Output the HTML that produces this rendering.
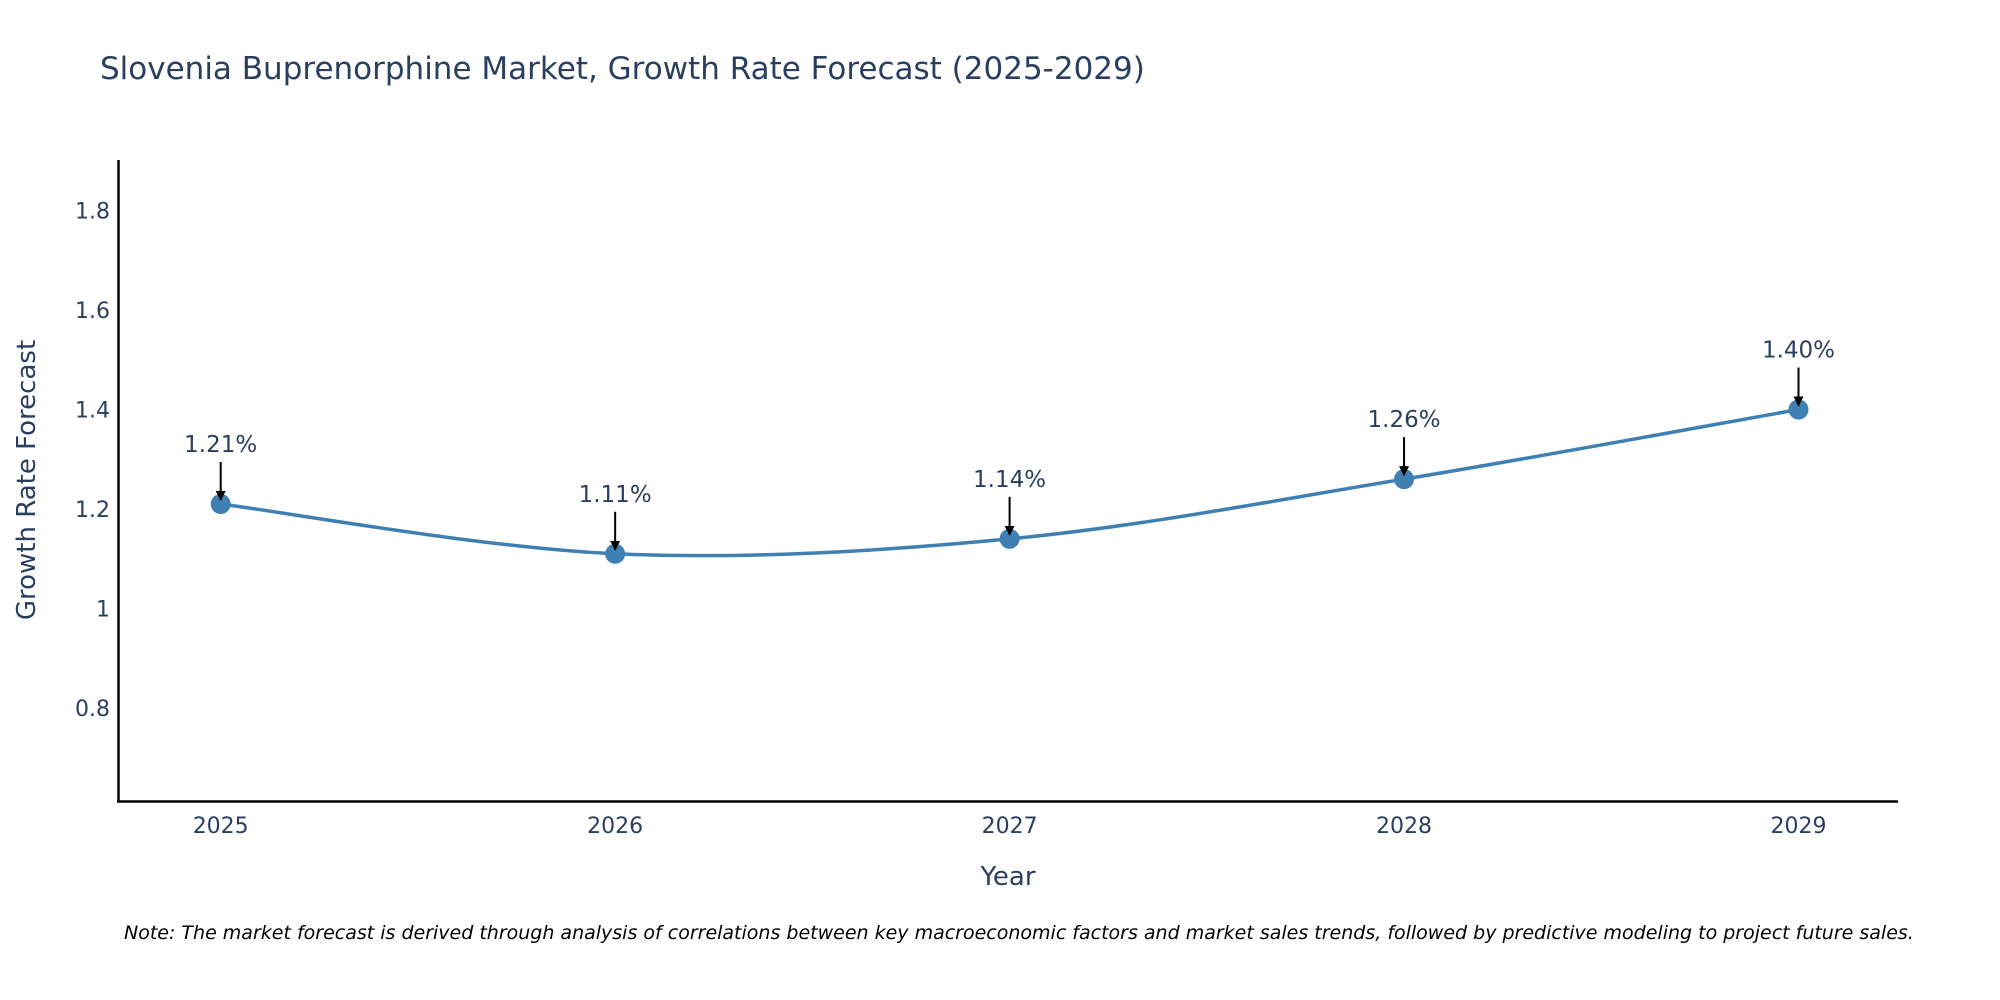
<!DOCTYPE html>
<html><head><meta charset="utf-8"><style>
html,body{margin:0;padding:0;background:#fff}
svg{display:block;font-family:"DejaVu Sans","Liberation Sans",sans-serif}
</style></head><body>
<svg id="chart" width="2000" height="1000" viewBox="0 0 2000 1000">
<rect width="2000" height="1000" fill="#fff"/>
<text x="100" y="79" font-size="31" fill="#2a3f5f">Slovenia Buprenorphine Market, Growth Rate Forecast (2025-2029)</text>
<g id="yticks"></g>
<g id="xticks"></g>
<line x1="118.5" y1="160" x2="118.5" y2="802" stroke="#000" stroke-width="2.5"/>
<line x1="117" y1="801.5" x2="1898" y2="801.5" stroke="#000" stroke-width="2.5"/>
<path id="line" fill="none" stroke="#3f7fb1" stroke-width="3.5"/>
<g id="points"></g>
<g id="annots"></g>
<text x="26" y="480" font-size="26" fill="#2a3f5f" text-anchor="middle" transform="rotate(-90 26 480)" dy="9">Growth Rate Forecast</text>
<text x="1008" y="885" font-size="26" fill="#2a3f5f" text-anchor="middle">Year</text>
<text x="124" y="939" font-size="19" font-style="italic" fill="#000">Note: The market forecast is derived through analysis of correlations between key macroeconomic factors and market sales trends, followed by predictive modeling to project future sales.</text>
<defs><marker id="ah" viewBox="0 0 10 10" refX="9" refY="5" markerWidth="5" markerHeight="5" orient="auto"><path d="M0,0 L10,5 L0,10 z" fill="#000"/></marker></defs>
</svg>
<script>
const years = [2025, 2026, 2027, 2028, 2029];
const values = [1.21, 1.11, 1.14, 1.26, 1.40];
const labels = ["1.21%", "1.11%", "1.14%", "1.26%", "1.40%"];
const yTickValues = [0.8, 1, 1.2, 1.4, 1.6, 1.8];
const yTickLabels = ["0.8", "1", "1.2", "1.4", "1.6", "1.8"];

const NS = "http://www.w3.org/2000/svg";
function xS(v){ return 220.7 + (v - 2025) * (1798.5 - 220.7) / 4; }
function yS(v){ return 708 - (v - 0.8) * 497.5; }
function mk(tag, attrs){ const e = document.createElementNS(NS, tag); for (const k in attrs) e.setAttribute(k, attrs[k]); return e; }

const yt = document.getElementById('yticks');
yTickValues.forEach((v, i) => {
  const t = mk('text', {x: 110, y: yS(v) + 8, 'font-size': 22, fill: '#2a3f5f', 'text-anchor': 'end'});
  
  
  t.textContent = yTickLabels[i];
  yt.appendChild(t);
});
const xt = document.getElementById('xticks');
years.forEach(y => {
  const t = mk('text', {x: xS(y), y: 833, 'font-size': 22, fill: '#2a3f5f', 'text-anchor': 'middle'});
  
  
  t.textContent = String(y);
  xt.appendChild(t);
});

const pts = years.map((y, i) => [xS(y), yS(values[i])]);
let d = `M${pts[0][0]},${pts[0][1]}`;
const s = 1/6;
for (let i = 0; i < pts.length - 1; i++) {
  const p0 = pts[Math.max(i - 1, 0)], p1 = pts[i], p2 = pts[i + 1], p3 = pts[Math.min(i + 2, pts.length - 1)];
  const c1 = [p1[0] + (p2[0] - p0[0]) * s, p1[1] + (p2[1] - p0[1]) * s];
  const c2 = [p2[0] - (p3[0] - p1[0]) * s, p2[1] - (p3[1] - p1[1]) * s];
  d += ` C${c1[0]},${c1[1]} ${c2[0]},${c2[1]} ${p2[0]},${p2[1]}`;
}
document.getElementById('line').setAttribute('d', d);

const pg = document.getElementById('points');
const ag = document.getElementById('annots');
pts.forEach((p, i) => {
  const c = mk('circle', {cx: p[0], cy: p[1], r: 10, fill: '#3f7fb1'});
  
  
  pg.appendChild(c);
  const a = mk('line', {x1: p[0], y1: p[1] - 42, x2: p[0], y2: p[1] - 4, stroke: '#000', 'stroke-width': 2, 'marker-end': 'url(#ah)'});
  
  
  ag.appendChild(a);
  const t = mk('text', {x: p[0], y: p[1] - 52, 'font-size': 23, fill: '#2a3f5f', 'text-anchor': 'middle'});
  
  
  t.textContent = labels[i];
  ag.appendChild(t);
});
</script>
</body></html>
